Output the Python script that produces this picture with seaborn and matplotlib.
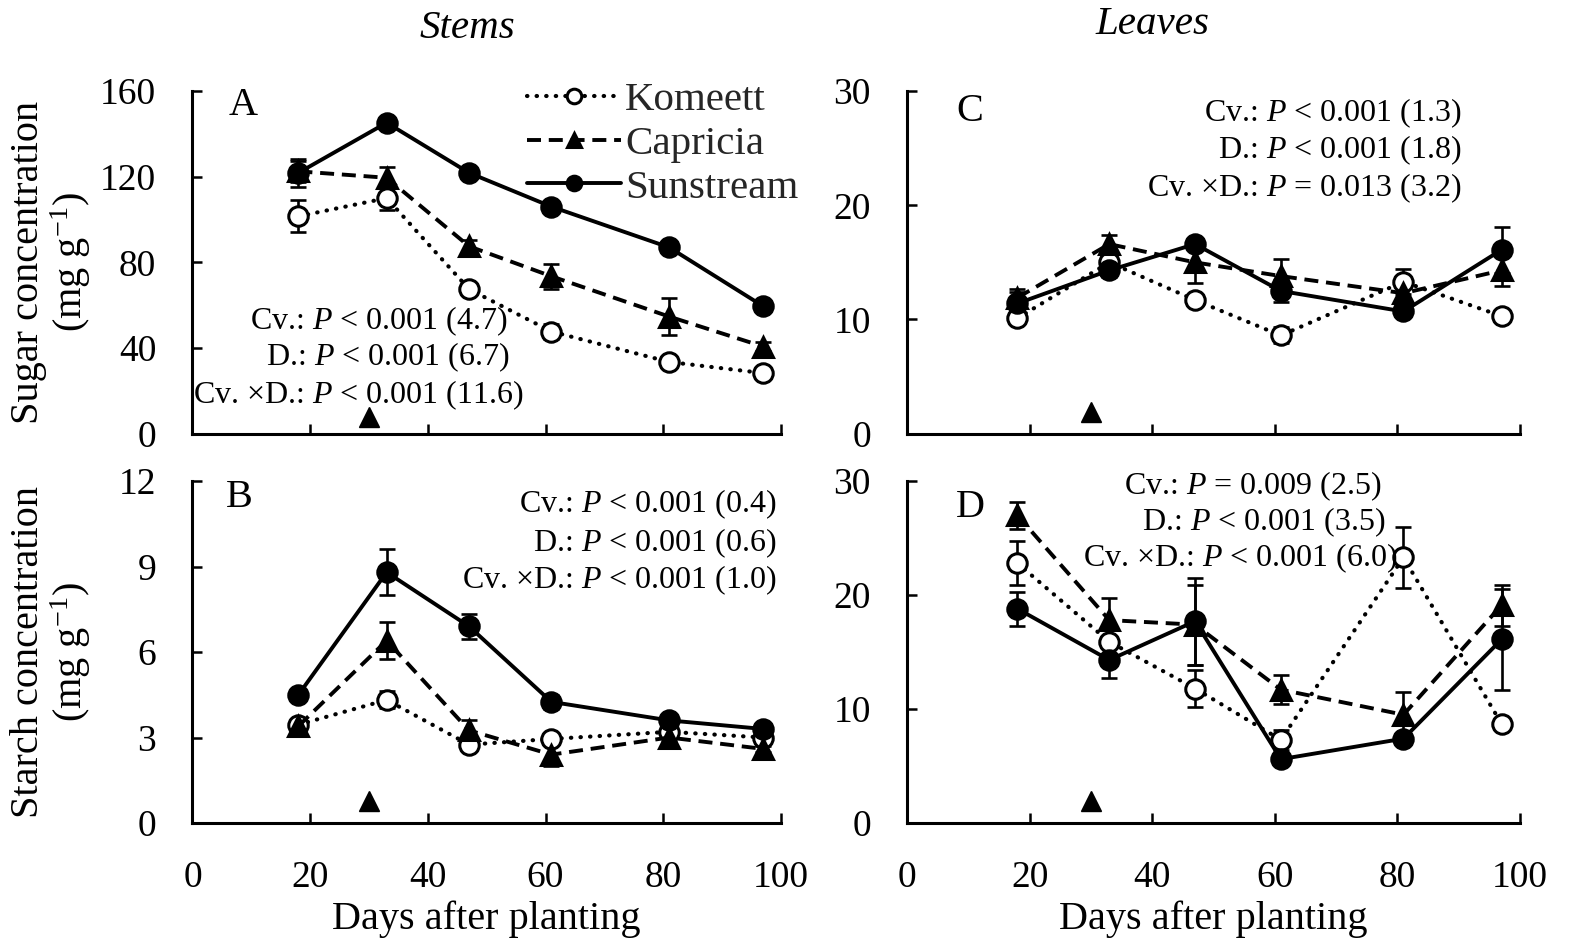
import matplotlib
matplotlib.use('Agg')
import matplotlib.pyplot as plt
import seaborn as sns

# sampling days and transplanting day (arrow)
days = [18, 33, 47, 61, 81, 97]
arrow_day = 30
cultivars = ['Komeett', 'Capricia', 'Sunstream']

# A - stem sugar (mg g-1)
a_kom = [101.5, 110, 67.5, 47.7, 33.5, 28.3]
a_kom_se = [7.5, 5.5, 2, 3.5, 1.5, 1.5]
a_cap = [122.5, 119.5, 87.5, 73.5, 54.7, 40.7]
a_cap_se = [5, 5, 3, 5.7, 8.6, 2]
a_sun = [121.8, 145.2, 121.8, 106, 87, 59.5]
a_sun_se = [6.5, 2, 2, 2, 2.5, 2]

# B - stem starch (mg g-1)
b_kom = [3.45, 4.32, 2.75, 2.95, 3.2, 3.0]
b_kom_se = [0.1, 0.3, 0.1, 0.1, 0.1, 0.1]
b_cap = [3.4, 6.4, 3.25, 2.4, 3.0, 2.6]
b_cap_se = [0.1, 0.65, 0.35, 0.4, 0.15, 0.1]
b_sun = [4.5, 8.8, 6.9, 4.25, 3.6, 3.3]
b_sun_se = [0.1, 0.8, 0.43, 0.25, 0.1, 0.1]

# C - leaf sugar (mg g-1)
c_kom = [10.1, 15.0, 11.7, 8.6, 13.3, 10.3]
c_kom_se = [0.4, 0.5, 0.4, 0.7, 1.1, 0.3]
c_cap = [11.9, 16.6, 15.0, 13.8, 12.3, 14.3]
c_cap_se = [0.8, 0.8, 1.8, 1.5, 0.8, 1.4]
c_sun = [11.4, 14.3, 16.6, 12.5, 10.7, 16.1]
c_sun_se = [1.0, 0.6, 0.5, 1.0, 0.5, 2.0]

# D - leaf starch (mg g-1)
d_kom = [22.8, 15.9, 11.8, 7.3, 23.3, 8.7]
d_kom_se = [1.9, 0.5, 1.6, 0.9, 2.7, 0.3]
d_cap = [27.0, 17.8, 17.4, 11.7, 9.5, 19.1]
d_cap_se = [1.2, 1.9, 3.5, 1.3, 2.0, 1.8]
d_sun = [18.8, 14.3, 17.7, 5.6, 7.4, 16.1]
d_sun_se = [1.5, 1.6, 3.8, 0.3, 0.3, 4.4]

sns.set_theme(style='ticks')
plt.rcParams['font.family'] = ['Liberation Serif', 'DejaVu Serif']
plt.rcParams['mathtext.fontset'] = 'custom'
plt.rcParams['mathtext.rm'] = 'Liberation Serif'
plt.rcParams['mathtext.it'] = 'Liberation Serif:italic'
plt.rcParams['mathtext.bf'] = 'Liberation Serif:bold'

styles = {
    'Komeett': dict(linestyle=(0, (0.1, 2.2)), dash_capstyle='round', marker='o', mfc='white', lw=3.0),
    'Capricia': dict(linestyle=(0, (3.6, 2.0)), marker='^', mfc='black', lw=2.8),
    'Sunstream': dict(linestyle='-', marker='o', mfc='black', lw=2.8),
}

panels = [
    dict(letter='A', pos=[0.1226, 0.5444, 0.3748, 0.360], ylim=160, ystep=40,
         series=[(a_kom, a_kom_se), (a_cap, a_cap_se), (a_sun, a_sun_se)],
         ylabel='Sugar concentration\n(mg g$^{\\mathregular{-1}}$)',
         letter_xy=(0.086, 0.959), arrow_y=0.05,
         stats=[('Cv.: $P$ < 0.001 (4.7)', 0.536, 0.329),
                ('D.: $P$ < 0.001 (6.7)', 0.5395, 0.224),
                ('Cv. ×D.: $P$ < 0.001 (11.6)', 0.563, 0.113)]),
    dict(letter='B', pos=[0.1226, 0.1355, 0.3748, 0.3592], ylim=12, ystep=3,
         series=[(b_kom, b_kom_se), (b_cap, b_cap_se), (b_sun, b_sun_se)],
         ylabel='Starch concentration\n(mg g$^{\\mathregular{-1}}$)',
         letter_xy=(0.079, 0.953), arrow_y=0.064,
         stats=[('Cv.: $P$ < 0.001 (0.4)', 0.993, 0.932),
                ('D.: $P$ < 0.001 (0.6)', 0.993, 0.818),
                ('Cv. ×D.: $P$ < 0.001 (1.0)', 0.993, 0.710)]),
    dict(letter='C', pos=[0.5777, 0.5444, 0.3904, 0.360], ylim=30, ystep=10,
         series=[(c_kom, c_kom_se), (c_cap, c_cap_se), (c_sun, c_sun_se)],
         ylabel=None, letter_xy=(0.103, 0.939), arrow_y=0.064,
         stats=[('Cv.: $P$ < 0.001 (1.3)', 0.905, 0.936),
                ('D.: $P$ < 0.001 (1.8)', 0.905, 0.828),
                ('Cv. ×D.: $P$ = 0.013 (3.2)', 0.905, 0.717)]),
    dict(letter='D', pos=[0.5777, 0.1355, 0.3904, 0.3592], ylim=30, ystep=10,
         series=[(d_kom, d_kom_se), (d_cap, d_cap_se), (d_sun, d_sun_se)],
         ylabel=None, letter_xy=(0.103, 0.924), arrow_y=0.064,
         stats=[('Cv.: $P$ = 0.009 (2.5)', 0.775, 0.985),
                ('D.: $P$ < 0.001 (3.5)', 0.780, 0.880),
                ('Cv. ×D.: $P$ < 0.001 (6.0)', 0.801, 0.775)]),
]

fig = plt.figure(figsize=(15.7, 9.52), dpi=100)
fig.patch.set_facecolor('white')

for p in panels:
    ax = fig.add_axes(p['pos'])
    for name, (vals, se) in zip(cultivars, p['series']):
        st = styles[name]
        ax.errorbar(days, vals, yerr=se, fmt='none', ecolor='black',
                    elinewidth=1.9, capsize=6, capthick=1.9, zorder=2)
        extra = {'dash_capstyle': st['dash_capstyle']} if 'dash_capstyle' in st else {}
        sns.lineplot(x=days, y=vals, ax=ax, color='black', errorbar=None,
                     linestyle=st['linestyle'], lw=st['lw'], marker=st['marker'],
                     markersize=14, markerfacecolor=st['mfc'], markeredgecolor='black',
                     markeredgewidth=2.2, label=name, legend=False, zorder=3, **extra)
    # transplanting arrow
    ax.plot([arrow_day], [p['arrow_y']], marker='^', color='black', markersize=15,
            transform=ax.get_xaxis_transform(), clip_on=False, zorder=4)

    ax.set_xlim(0, 100)
    ax.set_ylim(0, p['ylim'])
    ax.set_xticks(range(0, 101, 20))
    ax.set_yticks(range(0, p['ylim'] + 1, p['ystep']))
    ax.set_facecolor('white')
    sns.despine(ax=ax)
    for s in ['left', 'bottom']:
        ax.spines[s].set_linewidth(2.2)
        ax.spines[s].set_color('black')
    ax.tick_params(axis='both', direction='in', length=7, width=1.8, colors='black',
                   labelsize=27, labelcolor='black')
    ax.tick_params(axis='y', pad=26)
    ax.tick_params(axis='x', pad=27)
    if p['letter'] in ('A', 'C'):
        ax.tick_params(axis='x', labelbottom=False)
    else:
        ax.set_xlabel('Days after planting', fontsize=29, color='black', labelpad=4)
    if p['ylabel']:
        ax.set_ylabel(p['ylabel'], fontsize=29, color='black', linespacing=1.05)
        ax.yaxis.set_label_coords(-0.169, 0.5)
    else:
        ax.set_ylabel('')

    ax.text(p['letter_xy'][0], p['letter_xy'][1], p['letter'], transform=ax.transAxes,
            ha='center', va='center', fontsize=29, color='black')
    for txt, x, y in p['stats']:
        ax.text(x, y, txt, transform=ax.transAxes, ha='right', va='center',
                fontsize=23, color='black')

    if p['letter'] == 'A':
        ax.legend(loc='upper left', bbox_to_anchor=(0.568, 1.028), frameon=False,
                  fontsize=29.5, handlelength=2.3, handletextpad=0.1,
                  labelspacing=0.15, borderpad=0, borderaxespad=0, markerscale=0.75)

fig.text(467 / 1570, 1 - 28 / 952, 'Stems', ha='center', va='center',
         fontsize=29.5, style='italic', color='black')
fig.text(1152 / 1570, 1 - 24 / 952, 'Leaves', ha='center', va='center',
         fontsize=29.5, style='italic', color='black')

fig.savefig('out.png', dpi=100, facecolor='white')
